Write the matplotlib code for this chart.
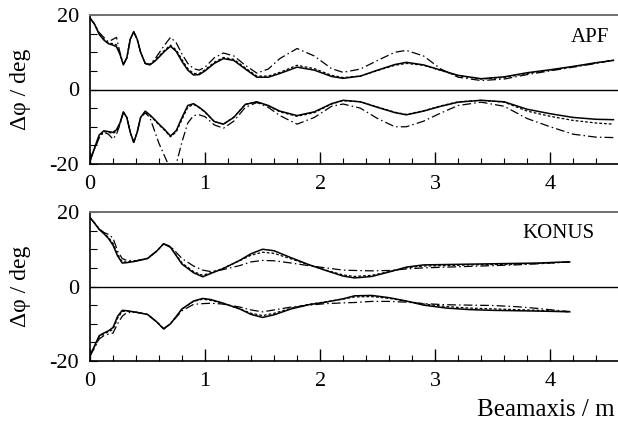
import matplotlib
matplotlib.use("Agg")
import matplotlib.pyplot as plt
from matplotlib.ticker import MultipleLocator

plt.rcParams['font.family'] = ['Liberation Serif', 'DejaVu Serif']
plt.rcParams['axes.unicode_minus'] = False

# ---------------- APF panel data ----------------
xa = [0, 0.04, 0.08, 0.12, 0.16, 0.2, 0.23, 0.26, 0.29, 0.32, 0.35, 0.38, 0.41, 0.44,
      0.48, 0.52, 0.56, 0.6, 0.65, 0.7, 0.75, 0.8, 0.85, 0.9, 0.95, 1.0, 1.08, 1.16,
      1.25, 1.35, 1.45, 1.55, 1.65, 1.8, 1.95, 2.1, 2.2, 2.35, 2.5, 2.65, 2.75, 2.9,
      3.05, 3.2, 3.4, 3.6, 3.8, 4.0, 4.2, 4.4, 4.55]

apf_up_solid = [19.2, 17.5, 14.8, 13.3, 12.3, 11.9, 11.5, 9.5, 6.6, 8.5, 13.5, 15.5, 13.5, 10.0,
                7.0, 6.6, 7.5, 8.7, 10.3, 11.6, 10.2, 7.5, 5.2, 3.9, 4.0, 5.0, 7.0, 8.3,
                7.8, 5.5, 3.3, 3.3, 4.3, 6.0, 5.2, 3.5, 3.0, 3.6, 5.2, 6.7, 7.3, 6.6,
                5.2, 3.8, 2.9, 3.4, 4.5, 5.3, 6.2, 7.2, 7.8]
apf_up_dash = [19.2, 17.5, 14.9, 13.5, 12.5, 12.3, 12.0, 9.6, 6.7, 8.5, 13.5, 15.5, 13.5, 10.0,
               7.0, 6.7, 7.7, 9.0, 10.6, 11.9, 10.6, 8.0, 5.6, 4.3, 4.3, 5.3, 7.3, 8.6,
               8.1, 5.8, 3.6, 3.6, 4.6, 6.5, 5.6, 3.8, 3.2, 3.6, 5.1, 6.5, 7.0, 6.5,
               5.1, 3.7, 2.8, 3.2, 4.3, 5.2, 6.1, 7.1, 7.9]
apf_up_dd = [19.2, 17.5, 15.3, 14.0, 12.8, 13.5, 14.0, 10.0, 6.8, 8.5, 13.5, 15.5, 13.5, 10.0,
             7.0, 6.8, 8.0, 9.8, 12.0, 14.0, 12.5, 9.5, 7.0, 5.6, 5.2, 6.0, 8.5, 9.8,
             9.0, 6.5, 4.4, 5.5, 8.3, 11.0, 9.0, 5.6, 4.6, 5.5, 7.8, 10.0, 10.5, 9.0,
             5.5, 3.3, 2.4, 2.8, 4.0, 5.0, 6.0, 7.0, 7.9]

apf_lo_solid = [-19.2, -15.6, -12.2, -11.1, -11.3, -11.5, -10.8, -9.0, -6.0, -7.5, -11.5, -14.2, -11.5, -7.5,
                -5.8, -6.8, -8.0, -9.3, -10.8, -12.5, -11.0, -7.5, -4.3, -3.8, -4.8, -6.0, -8.6, -9.3,
                -7.5, -4.0, -3.3, -4.3, -5.8, -7.0, -6.0, -3.8, -2.9, -3.3, -4.8, -6.2, -6.8, -5.8,
                -4.5, -3.4, -2.9, -3.3, -5.3, -6.5, -7.5, -8.0, -8.1]
apf_lo_dash = [-19.2, -15.8, -12.5, -11.3, -11.5, -11.8, -11.2, -9.2, -6.1, -7.5, -11.5, -14.2, -11.5, -7.5,
               -6.0, -7.0, -8.2, -9.5, -11.0, -12.7, -11.4, -8.0, -4.8, -4.0, -4.9, -6.1, -8.6, -9.3,
               -7.4, -4.0, -3.3, -4.4, -6.0, -7.2, -6.2, -3.9, -3.0, -3.3, -4.7, -6.1, -6.7, -5.7,
               -4.4, -3.3, -2.9, -3.4, -5.8, -7.2, -8.3, -9.0, -9.3]
apf_lo_dd = [-19.0, -16.0, -13.0, -11.5, -12.0, -13.3, -12.0, -9.5, -6.2, -7.5, -11.5, -14.2, -11.5, -7.5,
             -6.3, -7.5, -11.0, -14.5, -18.0, -21.5, -20.0, -14.0, -9.0, -7.0, -6.8, -7.3, -9.5, -10.4,
             -8.5, -4.8, -3.5, -4.8, -7.0, -9.3, -7.5, -4.5, -3.9, -5.0, -7.8, -10.0, -10.0, -8.5,
             -6.3, -4.3, -3.4, -4.5, -7.8, -10.0, -12.0, -12.8, -12.9]

# ---------------- KONUS panel data ----------------
xk = [0, 0.04, 0.08, 0.12, 0.16, 0.2, 0.24, 0.28, 0.32, 0.4, 0.5, 0.58, 0.64, 0.7, 0.8,
      0.9, 0.98, 1.05, 1.15, 1.3, 1.4, 1.5, 1.6, 1.75, 1.9, 2.05, 2.2, 2.3, 2.45, 2.6,
      2.75, 2.9, 3.1, 3.3, 3.5, 3.7, 3.9, 4.05, 4.17]

kon_up_solid = [18.5, 17.0, 15.3, 14.2, 12.9, 11.1, 8.2, 6.3, 6.4, 6.8, 7.5, 9.5, 11.5, 10.5, 6.0,
                3.7, 2.6, 3.5, 4.7, 7.0, 8.8, 10.0, 9.6, 7.7, 5.9, 4.3, 2.8, 2.3, 2.7, 3.9,
                5.2, 5.8, 5.9, 6.0, 6.1, 6.2, 6.3, 6.5, 6.6]
kon_up_dash = [18.5, 17.0, 15.4, 14.4, 13.2, 11.6, 8.6, 6.6, 6.6, 6.9, 7.5, 9.5, 11.5, 10.6, 6.3,
               4.0, 3.0, 3.7, 4.8, 6.9, 8.4, 9.2, 8.9, 7.4, 5.8, 4.4, 3.1, 2.7, 3.0, 4.0,
               5.0, 5.5, 5.6, 5.8, 5.9, 6.0, 6.2, 6.4, 6.6]
kon_up_dd = [18.5, 17.0, 15.6, 14.5, 14.0, 13.0, 9.5, 7.5, 7.0, 6.9, 7.6, 9.5, 11.4, 10.8, 7.5,
             5.5, 4.4, 4.0, 4.5, 5.6, 6.6, 7.0, 6.9, 6.3, 5.6, 5.0, 4.4, 4.3, 4.2, 4.3,
             4.7, 5.0, 5.2, 5.4, 5.6, 5.8, 6.1, 6.4, 6.6]

kon_lo_solid = [-18.6, -15.9, -13.2, -12.5, -11.9, -11.0, -8.0, -6.4, -6.5, -6.9, -7.5, -9.5, -11.4, -10.0, -6.0,
                -3.9, -3.2, -3.5, -4.4, -6.0, -7.5, -8.3, -7.6, -6.0, -4.9, -4.2, -3.3, -2.5, -2.4, -3.0,
                -3.9, -5.0, -5.8, -6.2, -6.4, -6.5, -6.6, -6.7, -6.8]
kon_lo_dash = [-18.6, -16.1, -13.5, -12.7, -12.2, -11.5, -8.5, -6.7, -6.6, -6.9, -7.5, -9.5, -11.4, -10.0, -6.1,
               -4.0, -3.4, -3.7, -4.5, -6.0, -7.2, -7.8, -7.2, -5.8, -4.8, -4.1, -3.4, -2.8, -2.7, -3.2,
               -3.9, -4.7, -5.4, -5.8, -6.0, -6.2, -6.4, -6.6, -6.8]
kon_lo_dd = [-18.6, -16.5, -14.1, -13.2, -12.8, -12.5, -10.0, -8.0, -7.0, -6.9, -7.5, -9.5, -11.3, -10.0, -6.5,
             -4.8, -4.6, -4.5, -4.7, -5.5, -6.3, -6.8, -6.3, -5.5, -5.0, -4.6, -4.4, -4.3, -4.0, -4.0,
             -4.2, -4.6, -4.9, -5.0, -5.1, -5.4, -5.9, -6.4, -6.7]

panel_labels = ["APF", "KONUS"]
xticks = [0, 1, 2, 3, 4]

W, H = 618, 424
fig = plt.figure(figsize=(W / 100, H / 100), dpi=100)

left = 90 / W
width = (W - 90) / W + 0.01
ax1 = fig.add_axes([left, 1 - 164 / H, width, (164 - 15) / H])
ax2 = fig.add_axes([left, 1 - 361 / H, width, (361 - 212) / H])

xmax = (W + 6 - 90) / 115.0

solid_kw = dict(color='black', lw=1.1, ls='-')
dash_kw = dict(color='black', lw=0.9, ls=(0, (2.2, 1.6)))
dd_kw = dict(color='black', lw=0.9, ls=(0, (7, 2.5, 1.2, 2.5)))

def style(ax):
    ax.set_xlim(0, xmax)
    ax.set_ylim(-20, 20)
    ax.axhline(0, color='black', lw=1.0, zorder=1)
    ax.spines['right'].set_visible(False)
    ax.spines['top'].set_color('#707070')
    ax.spines['top'].set_linewidth(1.4)
    ax.spines['left'].set_linewidth(1.2)
    ax.spines['bottom'].set_linewidth(1.2)
    ax.set_xticks(xticks)
    ax.xaxis.set_minor_locator(MultipleLocator(0.2))
    ax.set_yticks([-20, 0, 20])
    ax.yaxis.set_minor_locator(MultipleLocator(5))
    ax.tick_params(axis='x', which='major', direction='in', length=9, width=1.0,
                   labelsize=16, pad=8, top=False)
    ax.tick_params(axis='x', which='minor', direction='in', length=4.5, width=0.8, top=False)
    ax.tick_params(axis='y', which='major', direction='in', length=5, width=0.8,
                   labelsize=16, pad=8, right=False)
    ax.tick_params(axis='y', which='minor', direction='in', length=5, width=0.8, right=False)
    ax.set_ylabel('Δφ / deg', fontsize=17)
    ax.yaxis.set_label_coords(-0.11, 0.5)

for ax, x, curves, lab, lpos in [
    (ax1, xa, (apf_up_solid, apf_up_dash, apf_up_dd, apf_lo_solid, apf_lo_dash, apf_lo_dd), panel_labels[0], (590, 37)),
    (ax2, xk, (kon_up_solid, kon_up_dash, kon_up_dd, kon_lo_solid, kon_lo_dash, kon_lo_dd), panel_labels[1], (558, 233)),
]:
    style(ax)
    us, ud, udd, ls_, ld, ldd = curves
    ax.plot(x, udd, **dd_kw)
    ax.plot(x, ud, **dash_kw)
    ax.plot(x, us, **solid_kw)
    ax.plot(x, ldd, **dd_kw)
    ax.plot(x, ld, **dash_kw)
    ax.plot(x, ls_, **solid_kw)
    fig.text(lpos[0] / W, 1 - lpos[1] / H, lab, ha='center', va='center', fontsize=15)

fig.text(615 / W, 1 - 410 / H, 'Beamaxis / m', ha='right', va='center', fontsize=18)

fig.savefig('out.png', dpi=100)
